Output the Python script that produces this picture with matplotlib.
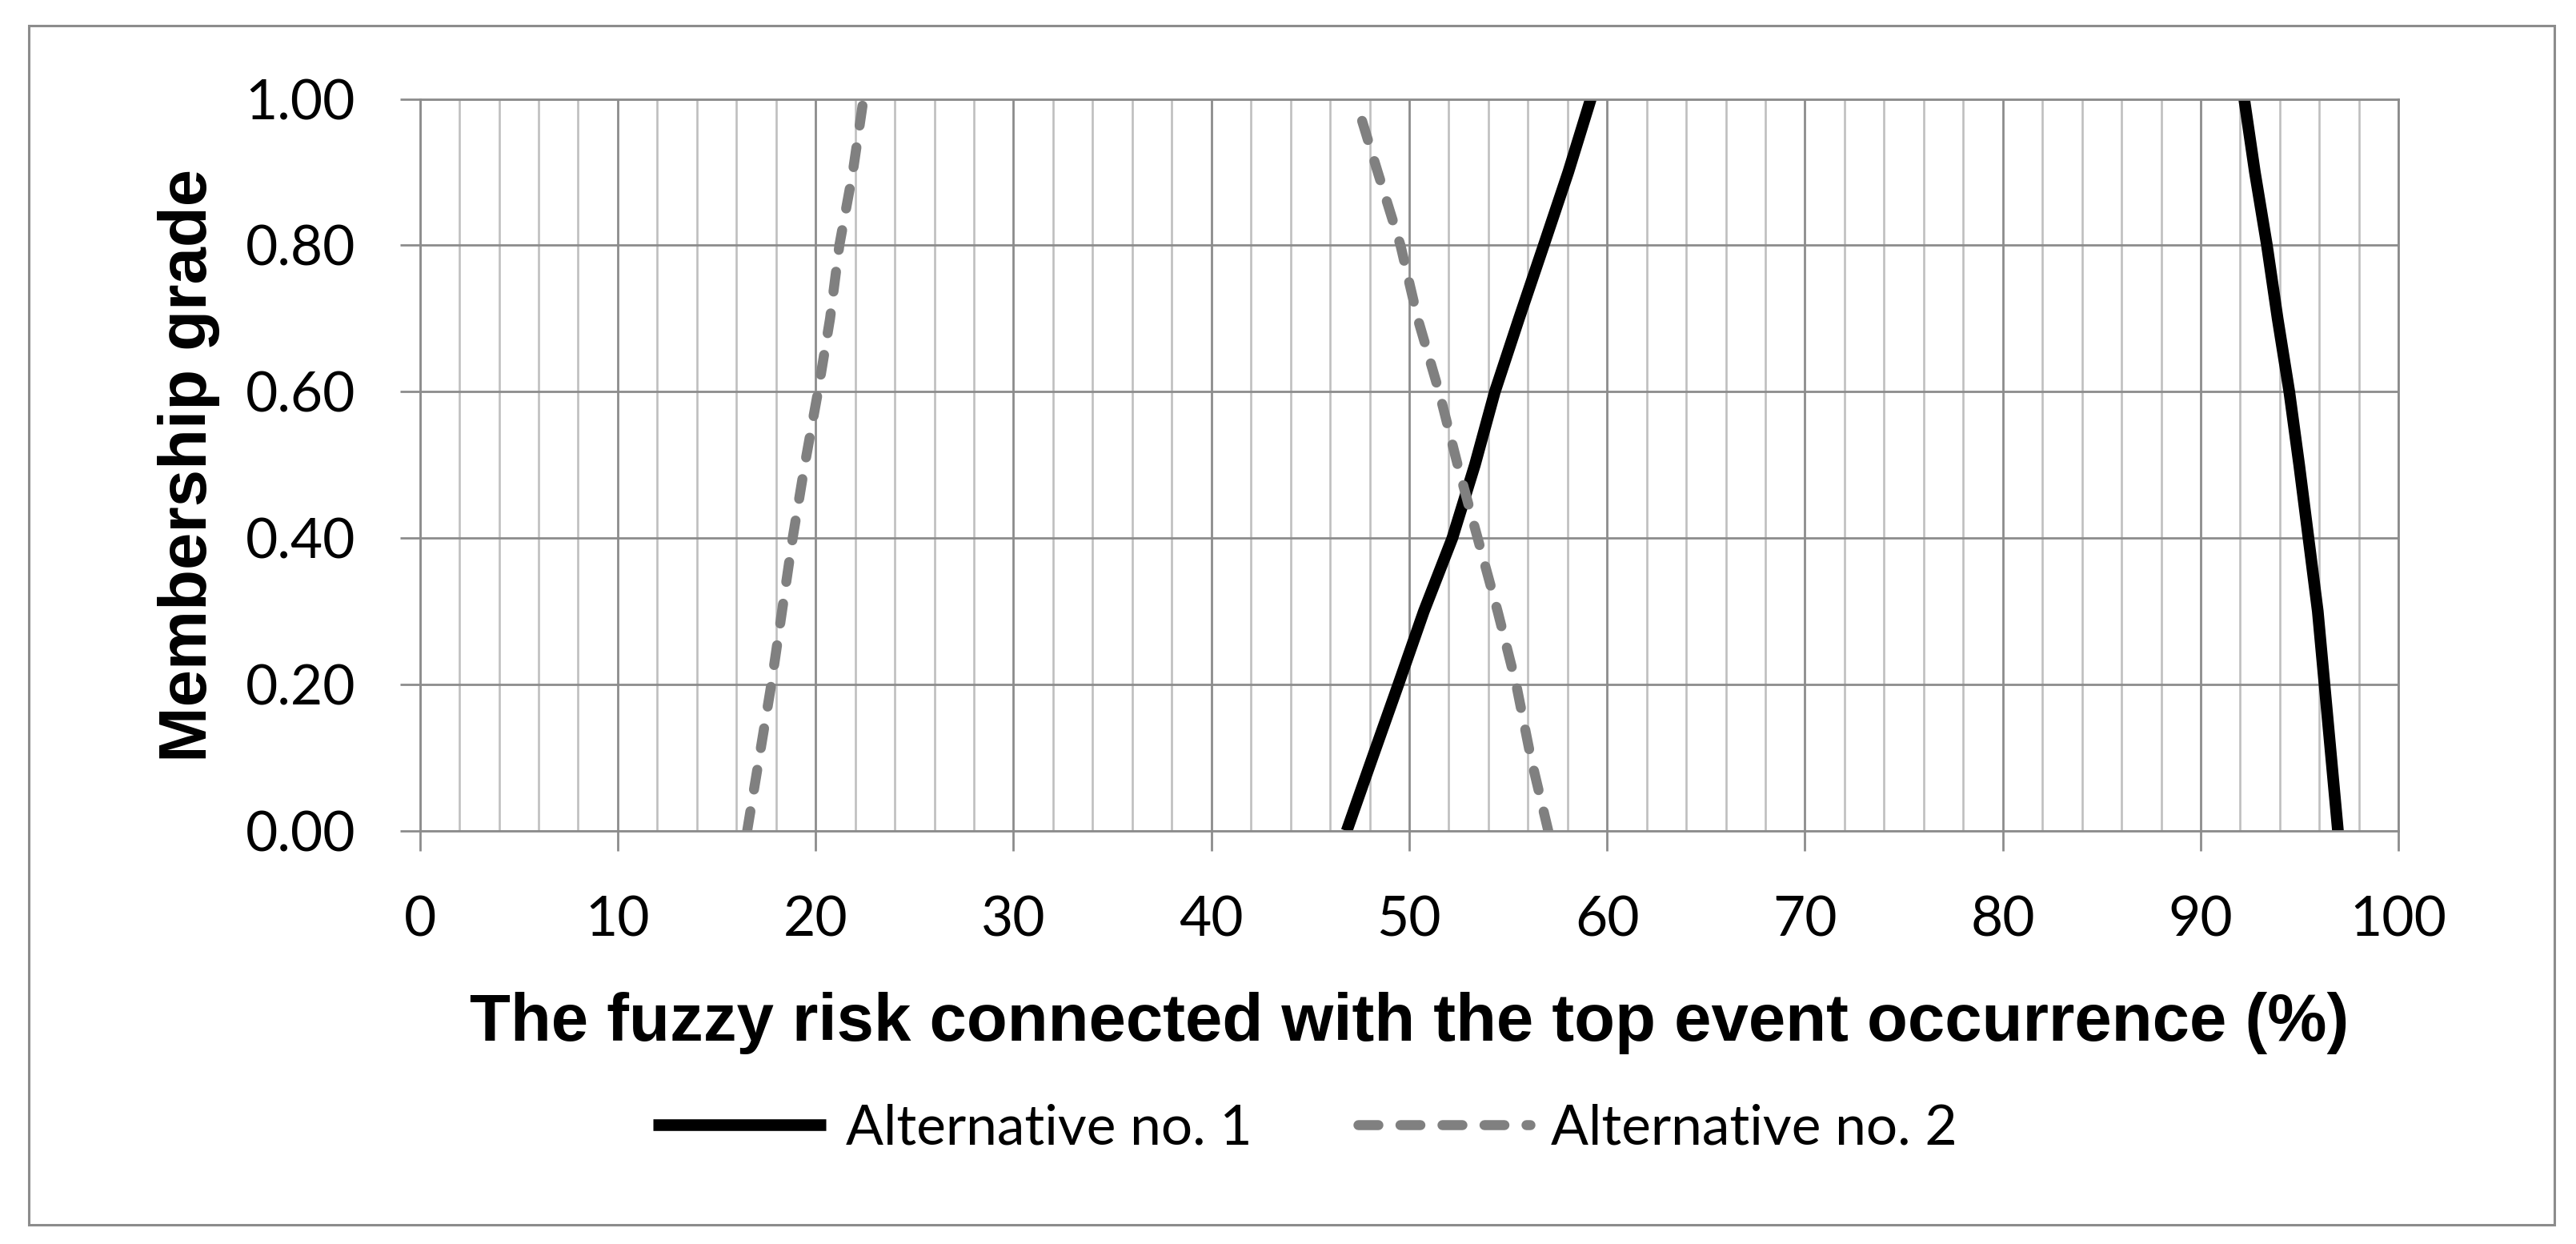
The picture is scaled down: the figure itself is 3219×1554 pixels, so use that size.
import numpy as np
import matplotlib
matplotlib.use("Agg")
import matplotlib.pyplot as plt
from matplotlib.patches import Rectangle

# membership levels (alpha cuts)
alpha = [0.0, 0.1, 0.2, 0.3, 0.4, 0.5, 0.6, 0.7, 0.8, 0.9, 1.0]

# Alternative no. 1 - left and right branch (risk in %)
alt1_left = [46.84, 48.14, 49.45, 50.74, 52.18, 53.32, 54.33, 55.55, 56.80, 58.04, 59.18]
alt1_right = [96.94, 96.60, 96.26, 95.92, 95.45, 94.98, 94.48, 93.89, 93.35, 92.74, 92.20]

# Alternative no. 2 - left and right branch
alt2_left = [16.54, 17.15, 17.76, 18.30, 18.84, 19.45, 20.12, 20.73, 21.20, 21.88, 22.42]
alt2_right_alpha = [0.0, 0.1, 0.2, 0.3, 0.4, 0.5, 0.6, 0.7, 0.8, 0.9, 0.977]
alt2_right = [57.03, 56.15, 55.41, 54.47, 53.46, 52.45, 51.51, 50.43, 49.56, 48.41, 47.54]

series_labels = ["Alternative no. 1", "Alternative no. 2"]

x_ticks = np.arange(0, 101, 10)
y_ticks = np.arange(0, 1.01, 0.2)

grid_major = "#8c8c8c"
grid_minor = "#bfbfbf"
tick_font = "Lato"

fig = plt.figure(figsize=(32.19, 15.54), dpi=100)
ax = fig.add_axes([0.1630, 0.3320, 0.7681, 0.5885])

# outer chart border
fig.patches.append(Rectangle((0.0112, 0.0154), 0.9804, 0.9640, transform=fig.transFigure,
                             fill=False, edgecolor=grid_major, linewidth=2.2))

# grid
ax.set_xticks(x_ticks)
ax.set_xticks(np.arange(0, 101, 2), minor=True)
ax.set_yticks(y_ticks)
ax.grid(which="minor", axis="x", color=grid_minor, linewidth=1.9)
ax.grid(which="major", axis="x", color=grid_major, linewidth=2.0)
ax.grid(which="major", axis="y", color=grid_major, linewidth=2.0)
ax.set_axisbelow(True)

# data
dash = (0, (2.0, 2.2))
ax.plot(alt1_left, alpha, color="black", linewidth=10.5, solid_capstyle="butt",
        label=series_labels[0])
ax.plot(alt1_right, alpha, color="black", linewidth=10.5, solid_capstyle="butt")
ax.plot(alt2_left, alpha, color="#808080", linewidth=9, linestyle=dash,
        dash_capstyle="round", label=series_labels[1])
ax.plot(alt2_right, alt2_right_alpha, color="#808080", linewidth=9, linestyle=dash,
        dash_capstyle="round")

ax.set_xlim(0, 100)
ax.set_ylim(0, 1)

for s in ax.spines.values():
    s.set_color(grid_major)
    s.set_linewidth(2.0)

ax.tick_params(which="major", length=18, width=2.0, color=grid_major, pad=40)
ax.tick_params(which="minor", length=0)
ax.set_yticklabels([f"{v:.2f}" for v in y_ticks])
ax.set_xticklabels([str(v) for v in x_ticks])
for lab in ax.get_xticklabels() + ax.get_yticklabels():
    lab.set_fontfamily(tick_font)
    lab.set_fontsize(50)

# axis titles
fig.text(0.5471, 0.1634, "The fuzzy risk connected with the top event occurrence (%)",
         ha="center", va="baseline", fontsize=60, fontweight="bold",
         family="Liberation Sans")
fig.text(0.0733, 0.626, "Membership grade", rotation=90, ha="center", va="center",
         fontsize=60, fontweight="bold", family="Liberation Sans")

fig.legend(loc="center", bbox_to_anchor=(0.5067, 0.0927), ncol=2, frameon=False,
           prop={"family": tick_font, "size": 50}, handlelength=3.1,
           handletextpad=0.37, columnspacing=1.9)

fig.savefig("out.png", dpi=100, facecolor="white")
